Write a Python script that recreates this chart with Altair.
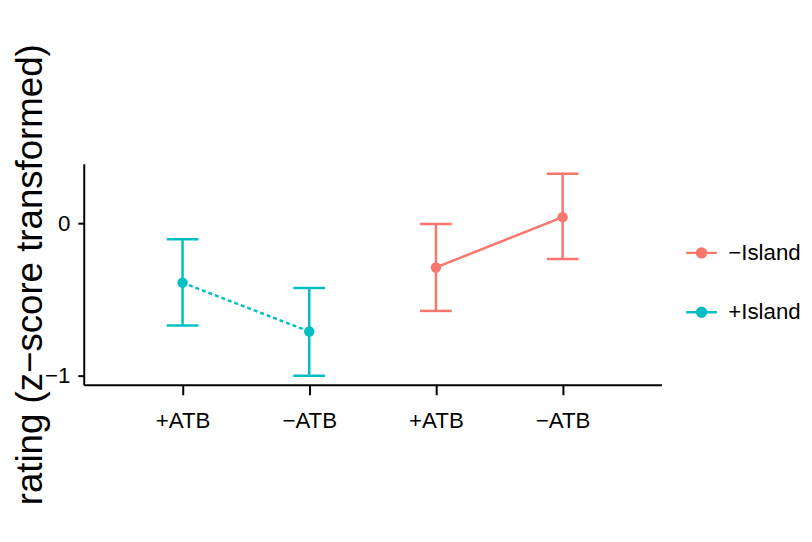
import json
import altair as alt
import pandas as pd

# ---- data ----
groups = ["+Island", "+Island", "−Island", "−Island"]
dash_style = ["dotted", "dotted", "solid", "solid"]
atb = ["+ATB", "−ATB", "+ATB", "−ATB"]
xpos = [1, 2, 3, 4]
means = [-0.39, -0.71, -0.29, 0.04]
lower = [-0.67, -1.00, -0.575, -0.235]
upper = [-0.105, -0.425, -0.005, 0.325]

x_tick_labels = ["+ATB", "−ATB", "+ATB", "−ATB"]
y_tick_values = [-1, 0]
y_tick_labels = ["−1", "0"]
legend_order = ["−Island", "+Island"]
colors = ["#F8766D", "#00BFC4"]

df = pd.DataFrame({
    "group": groups, "dash": dash_style, "atb": atb, "x": xpos,
    "mean": means, "lower": lower, "upper": upper,
})

SANS = "Liberation Sans, Arial, Helvetica, sans-serif"
LABEL_SIZE = 22.5

x_label_expr = json.dumps(x_tick_labels) + "[datum.value - 1]"
y_label_expr = (
    json.dumps(y_tick_labels) + "[indexof(" + json.dumps(y_tick_values) + ", datum.value)]"
)

x_enc = alt.X(
    "x:Q",
    scale=alt.Scale(domain=[0.22, 4.78], nice=False, zero=False),
    axis=alt.Axis(
        values=xpos, labelExpr=x_label_expr, title=None, tickSize=10,
        labelPadding=15, labelFont=SANS, labelFontSize=LABEL_SIZE,
    ),
)
y_scale = alt.Scale(domain=[-1.06, 0.39], nice=False, zero=False)
y_enc = alt.Y(
    "mean:Q",
    scale=y_scale,
    axis=alt.Axis(
        values=y_tick_values, labelExpr=y_label_expr,
        title="rating (z−score transformed)",
        titleFont=SANS, titleFontSize=37, titleFontWeight="normal",
        titleAngle=270, titleAlign="center", titleBaseline="alphabetic",
        titleX=-42.5, titleY=111.6, titleColor="black",
        tickSize=6, labelPadding=8, labelFont=SANS, labelFontSize=LABEL_SIZE,
    ),
)
color_enc = alt.Color(
    "group:N",
    scale=alt.Scale(domain=legend_order, range=colors),
    legend=alt.Legend(
        title=None, orient="none", legendX=607, legendY=73,
        symbolType="M-1,0H1M-0.29,0A0.29,0.29,0,1,1,0.29,0A0.29,0.29,0,1,1,-0.29,0Z",
        symbolSize=961, symbolStrokeWidth=2.5, symbolOpacity=1,
        labelFont=SANS, labelFontSize=LABEL_SIZE, labelColor="black",
        labelOffset=10, rowPadding=31,
    ),
)

base = alt.Chart(df)

lines = base.mark_line(strokeWidth=2.5).encode(
    x=x_enc, y=y_enc, color=color_enc, detail="group:N",
    strokeDash=alt.StrokeDash(
        "dash:N", scale=alt.Scale(domain=["solid", "dotted"], range=[[1, 0], [4, 3]]), legend=None
    ),
    order="x:Q",
)
rules = base.mark_rule(strokeWidth=2.5).encode(
    x="x:Q", y=alt.Y("lower:Q", scale=y_scale), y2="upper:Q", color=color_enc,
)
cap_lo = base.mark_tick(orient="horizontal", size=32, thickness=2.5, opacity=1).encode(
    x="x:Q", y=alt.Y("lower:Q", scale=y_scale), color=color_enc,
)
cap_hi = base.mark_tick(orient="horizontal", size=32, thickness=2.5, opacity=1).encode(
    x="x:Q", y=alt.Y("upper:Q", scale=y_scale), color=color_enc,
)
points = base.mark_point(filled=True, size=110, opacity=1).encode(
    x="x:Q", y=alt.Y("mean:Q", scale=y_scale), color=color_enc,
)

chart = alt.layer(lines, rules, cap_lo, cap_hi, points).properties(
    width=583.5, height=223.3,
    autosize=alt.AutoSizeParams(type="none"),
    padding={"left": 76.5, "top": 154.7, "right": 144, "bottom": 148},
).configure_view(stroke=None).configure_axis(
    grid=False, domainColor="black", domainWidth=2, tickColor="black",
    tickWidth=2, labelColor="black",
)

chart.save("out.html", embed_options={"renderer": "svg", "actions": False})
